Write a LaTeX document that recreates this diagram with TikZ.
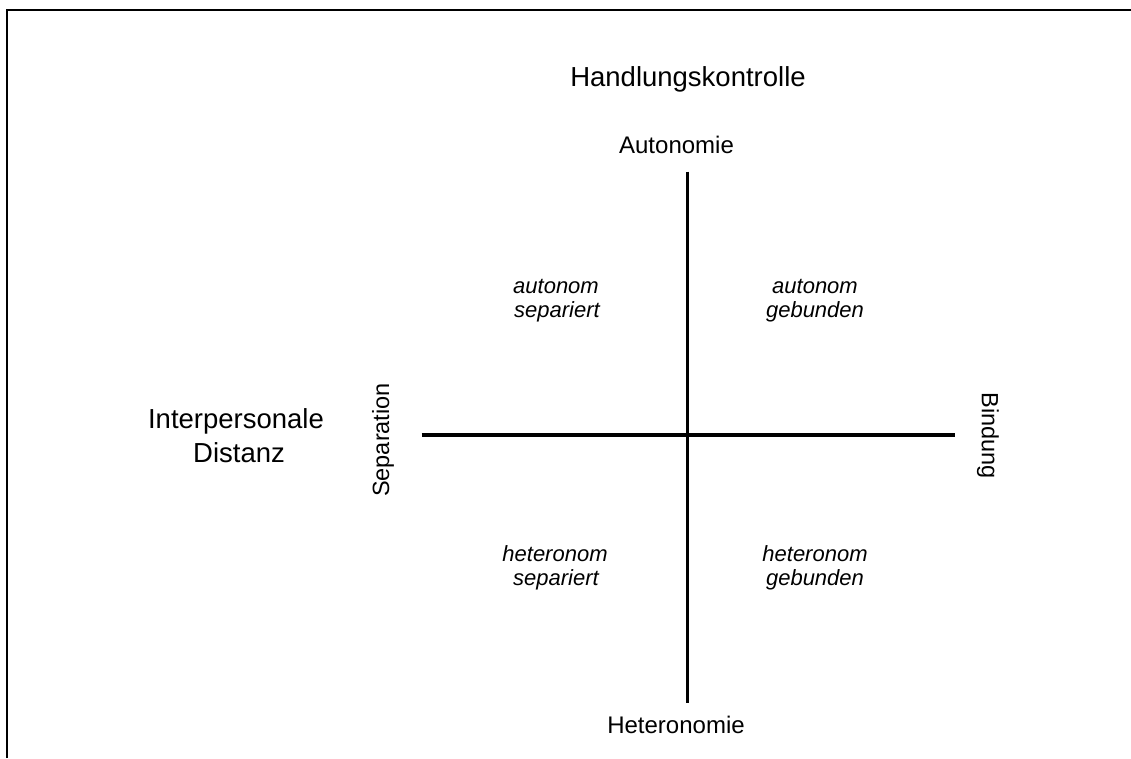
\documentclass[tikz,border=0pt]{standalone}
\usepackage{fontspec}
\setmainfont{Liberation Sans}
\begin{document}
\begin{tikzpicture}[x=1pt,y=-1pt,
  axis/.style={line width=3.2pt},
  frameline/.style={line width=1.8pt},
  title/.style={inner sep=0pt,anchor=base,font=\fontsize{27.5}{33}\selectfont},
  side/.style={inner sep=0pt,anchor=base,font=\fontsize{27.5}{33}\selectfont},
  pole/.style={inner sep=0pt,anchor=base,font=\fontsize{24}{29}\selectfont},
  polerot/.style={inner sep=0pt,font=\fontsize{23.5}{28}\selectfont},
  quad/.style={inner sep=0pt,anchor=base,font=\itshape\fontsize{22}{26}\selectfont}]
  \useasboundingbox (0,0) rectangle (1131,758);
  % open frame: top and left edges
  \coordinate (fa) at (6.7,758);
  \coordinate (fb) at (6.7,10.2);
  \coordinate (fc) at (1131,10.2);
  \draw[frameline] (fa) -- (fb) -- (fc);
  % axes
  \coordinate (top) at (687.5,171.5);
  \coordinate (bottom) at (687.5,703);
  \coordinate (left) at (421.5,435);
  \coordinate (right) at (955,435);
  \draw[axis] (top) -- (bottom);
  \draw[axis] (left) -- (right);
  % dimension titles
  \node[title] (hk) at (688,86.7) {Handlungskontrolle};
  \node[side] (ipa) at (236,428) {Interpersonale};
  \node[side] (ipb) at (239,462.7) {Distanz};
  % poles
  \node[pole] (auto) at (676.5,153.3) {Autonomie};
  \node[pole] (hetero) at (676,733.3) {Heteronomie};
  \node[polerot,rotate=90] (sep) at (383,440) {Separation};
  \node[polerot,rotate=-90] (bind) at (988,435.5) {Bindung};
  % quadrants
  \node[quad] (q1a) at (556,293.3) {autonom};
  \node[quad] (q1b) at (557,317.3) {separiert};
  \node[quad] (q2a) at (815,293.3) {autonom};
  \node[quad] (q2b) at (815,317.3) {gebunden};
  \node[quad] (q3a) at (555,561) {heteronom};
  \node[quad] (q3b) at (556,585) {separiert};
  \node[quad] (q4a) at (815,561) {heteronom};
  \node[quad] (q4b) at (815,585) {gebunden};
\end{tikzpicture}
\end{document}
